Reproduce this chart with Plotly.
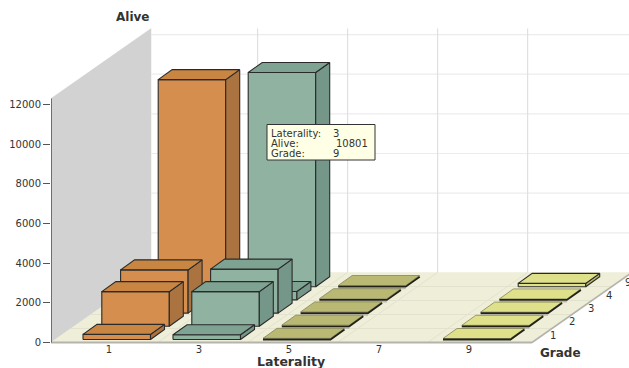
import plotly.graph_objects as go

# Survival counts by laterality (rows) and grade (columns)
laterality = ["1", "3", "5", "7", "9"]
grades = ["1", "2", "3", "4", "9"]
alive_lat1 = [260, 1750, 2180, 300, 10440]
alive_lat3 = [240, 1750, 2220, 420, 10801]
alive_lat5 = [60, 60, 60, 60, 60]
alive_lat7 = [0, 0, 0, 0, 0]
alive_lat9 = [50, 50, 50, 50, 170]
alive = [alive_lat1, alive_lat3, alive_lat5, alive_lat7, alive_lat9]
alive_ticks = [0, 2000, 4000, 6000, 8000, 10000, 12000]

W, H = 629, 368
LEFT = 51          # plot area starts where the value axis sits
ZERO_PX = 342.5    # pixel row of value 0 at the front of the floor
PX_PER_UNIT = 0.01983
PX_PER_LAT = 90.0
LAT0_PX = 109.0

# Oblique projection: each grade step moves right and up by a fixed amount
GRADE_DX = 18.8 / PX_PER_LAT
GRADE_DY = 13.2 / PX_PER_UNIT
BAR_LEFT = -26 / PX_PER_LAT
BAR_WIDTH = 67.5 / PX_PER_LAT
BAR_DX = 14 / PX_PER_LAT
BAR_DY = 10 / PX_PER_UNIT
BASE_Y = 3 / PX_PER_UNIT
DEPTH_DX = 100 / PX_PER_LAT
DEPTH_DY = 70 / PX_PER_UNIT
FLOOR_L = (LEFT - LAT0_PX) / PX_PER_LAT
FLOOR_R = (532 - LAT0_PX) / PX_PER_LAT
TOP_VALUE = 12300
THIN_LIMIT = 100   # bars this low read as flat plates

colors = {
    0: ("#d58e4d", "#c98643", "#aa7340"),
    1: ("#8fb3a0", "#7fa392", "#75978a"),
    2: ("#b5b56b", "#b9b974", "#8f8f55"),
    4: ("#dfe08a", "#dfe08a", "#b5b56e"),
}

fig = go.Figure()


def poly(xs, ys, fill, line="#2a2a2a", width=1.1):
    fig.add_trace(go.Scatter(
        x=xs + xs[:1], y=ys + ys[:1], mode="lines", fill="toself",
        fillcolor=fill, line=dict(color=line, width=width),
        hoverinfo="skip", showlegend=False))


def seg(xs, ys, color, width=1.0):
    fig.add_trace(go.Scatter(x=xs, y=ys, mode="lines",
                             line=dict(color=color, width=width),
                             hoverinfo="skip", showlegend=False))


# Side wall, back wall grid and floor
poly([FLOOR_L, FLOOR_L + DEPTH_DX, FLOOR_L + DEPTH_DX, FLOOR_L],
     [0, DEPTH_DY, TOP_VALUE + DEPTH_DY, TOP_VALUE], "#d2d2d2", "#d2d2d2", 0.5)
for v in alive_ticks[1:]:
    seg([FLOOR_L + DEPTH_DX, FLOOR_R + DEPTH_DX], [v + DEPTH_DY] * 2, "#ececec", 1.2)
for i in range(1, 5):
    x = i - 0.5 + 0.04 + DEPTH_DX
    seg([x, x], [DEPTH_DY, TOP_VALUE + DEPTH_DY], "#e0e0e0", 1.2)
poly([FLOOR_L, FLOOR_R, FLOOR_R + DEPTH_DX, FLOOR_L + DEPTH_DX],
     [0, 0, DEPTH_DY, DEPTH_DY], "#eeeed9", "#eeeed9", 0.5)
for g in range(1, 5):
    t = g / 5
    seg([FLOOR_L + DEPTH_DX * t, FLOOR_R + DEPTH_DX * t],
        [DEPTH_DY * t] * 2, "#e2e2ce", 1.0)
for i in range(1, 5):
    x = i - 0.5 + 0.04
    seg([x, x + DEPTH_DX], [0, DEPTH_DY], "#e2e2ce", 1.0)
seg([FLOOR_L, FLOOR_R], [0, 0], "#b4b4ac", 2.2)
seg([FLOOR_R, FLOOR_R + DEPTH_DX], [0, DEPTH_DY], "#b4b4ac", 1.6)
seg([FLOOR_L, FLOOR_L], [0, TOP_VALUE], "#555555", 1.6)

# Bars are painted from the back row to the front row
for g in range(len(grades) - 1, -1, -1):
    for i, row in enumerate(alive):
        v = row[g]
        if v <= 0:
            continue
        front, top, side = colors[i]
        x0 = i + BAR_LEFT + g * GRADE_DX
        x1 = x0 + BAR_WIDTH
        y0 = BASE_Y + g * GRADE_DY
        y1 = y0 + v
        if v < THIN_LIMIT:
            # Flat plates: soft top outline, dark front edge, grey stripe below it
            if g > 0:
                seg([x0, x1], [y0 - 1.8 / PX_PER_UNIT] * 2, "#b9b9b0", 1.6)
            poly([x0, x1, x1 + BAR_DX, x0 + BAR_DX],
                 [y1, y1, y1 + BAR_DY, y1 + BAR_DY], top, "#85855a", 0.8)
            seg([x0, x1, x1 + BAR_DX], [y0, y0, y0 + BAR_DY], "#222218", 1.8)
            continue
        poly([x0, x1, x1, x0], [y0, y0, y1, y1], front)
        poly([x1, x1 + BAR_DX, x1 + BAR_DX, x1],
             [y0, y0 + BAR_DY, y1 + BAR_DY, y1], side)
        poly([x0, x1, x1 + BAR_DX, x0 + BAR_DX],
             [y1, y1, y1 + BAR_DY, y1 + BAR_DY], top)


def to_x(px):
    return (px - LAT0_PX) / PX_PER_LAT


def to_y(py):
    return (ZERO_PX - py) / PX_PER_UNIT


FONT = "DejaVu Sans"
ann = []


def label(px, py, text, size=10, bold=False, anchor="center", color="#333333"):
    ann.append(dict(x=to_x(px), y=to_y(py), text=f"<b>{text}</b>" if bold else text,
                    showarrow=False, xanchor=anchor, yanchor="middle",
                    xshift=0, borderpad=0,
                    font=dict(family=FONT, size=size, color=color)))


label(132, 17, "Alive", 12, True)
label(291, 361, "Laterality", 12.5, True)
label(560, 353, "Grade", 12, True)
for g, name in enumerate(grades):
    label(553 + 18.8 * g, 335 - 13.2 * g, name, 10)

# Pinned tooltip for the tallest bar
tip = dict(Laterality=laterality[1], Alive=alive_lat3[4], Grade=grades[4])
fig.add_shape(type="rect", x0=to_x(267), x1=to_x(375), y0=to_y(124.5), y1=to_y(160),
              fillcolor="#ffffe6", line=dict(color="#333333", width=1), layer="above")
for row, (k, val) in enumerate(tip.items()):
    py = 133 + row * 10
    label(270, py, f"{k}:", 10, anchor="left")
    label(332 if k != "Alive" else 335, py, str(val), 10, anchor="left")

fig.update_layout(
    width=W, height=H, autosize=False, showlegend=False,
    paper_bgcolor="white", plot_bgcolor="white",
    margin=dict(l=LEFT, r=0, t=0, b=0),
    annotations=ann,
    font=dict(family=FONT, size=10, color="#333333"),
    xaxis=dict(range=[to_x(LEFT), to_x(W)], tickvals=list(range(5)), ticktext=laterality,
               anchor="free", position=(H - ZERO_PX) / H, showgrid=False, zeroline=False,
               showline=False, ticks="", ticklabelstandoff=-1,
               tickfont=dict(family=FONT, size=10, color="#333333")),
    yaxis=dict(range=[to_y(H), to_y(0)], tickvals=alive_ticks, tickformat="d",
               showgrid=False, zeroline=False, showline=False,
               ticks="outside", ticklen=7, tickcolor="#555555", tickwidth=1.2,
               ticklabelstandoff=0,
               tickfont=dict(family=FONT, size=10, color="#333333")),
)

fig.write_html("out.html")
